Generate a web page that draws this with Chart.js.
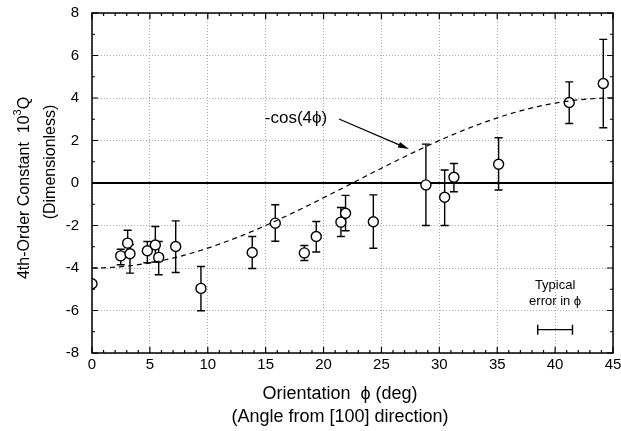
<!DOCTYPE html>
<html>
<head>
<meta charset="utf-8">
<script src="https://cdn.jsdelivr.net/npm/chart.js@4"></script>
<style>
  html, body { margin: 0; padding: 0; background: #fff; }
  canvas { display: block; }
</style>
</head>
<body>
<canvas id="qChart" width="621" height="431"></canvas>
<script>
// ===== 4th-order constant vs orientation =====

// measured points (orientation in deg, Q in units of 1e-3)
const phi   = [0, 2.48, 3.08, 3.28, 4.78, 5.47, 5.76, 7.23, 9.41, 13.84, 15.83, 18.34, 19.37, 21.5, 21.9, 24.3, 28.84, 30.46, 31.26, 35.12, 41.22, 44.16];
const q     = [-4.74, -3.43, -2.83, -3.33, -3.19, -2.92, -3.5, -2.99, -4.96, -3.27, -1.89, -3.29, -2.52, -1.84, -1.42, -1.82, -0.09, -0.67, 0.27, 0.88, 3.79, 4.68];
const qHigh = [null, -3.12, -2.22, -2.9, -2.75, -2.05, -2.75, -1.78, -3.93, -2.52, -1.02, -2.94, -1.81, -1.15, -0.58, -0.56, 1.83, 0.61, 0.92, 2.13, 4.76, 6.76];
const qLow  = [null, -3.85, -3.35, -4.24, -3.75, -3.72, -4.32, -4.21, -6.01, -4.02, -2.74, -3.65, -3.25, -2.52, -2.25, -3.07, -2.0, -2.0, -0.41, -0.33, 2.8, 2.6];

// model curve: -cos(4 phi), scaled
const curveAmp = 4;
const curve = [];
for (let d = 0; d <= 45; d += 0.5) {
  curve.push({ x: d, y: -curveAmp * Math.cos(4 * d * Math.PI / 180) });
}

// typical error in phi
const typErrCenter = 40;
const typErrHalf = 1.5;
const typErrQ = -6.9;

const xTicks = [0, 5, 10, 15, 20, 25, 30, 35, 40, 45];
const yTicks = [-8, -6, -4, -2, 0, 2, 4, 6, 8];

const FONT = "'Liberation Sans', Arial, sans-serif";

const paperPlugin = {
  id: 'paper',
  beforeDraw(chart) {
    const ctx = chart.ctx;
    ctx.save();
    ctx.fillStyle = '#fff';
    ctx.fillRect(0, 0, chart.width, chart.height);
    ctx.restore();
  },
  beforeDatasetsDraw(chart) {
    const { ctx, chartArea: a, scales: { x, y } } = chart;
    ctx.save();
    // zero line
    const y0 = y.getPixelForValue(0);
    ctx.strokeStyle = '#000';
    ctx.lineWidth = 2;
    ctx.beginPath();
    ctx.moveTo(a.left, y0);
    ctx.lineTo(a.right, y0);
    ctx.stroke();
    // error bars
    ctx.lineWidth = 1.4;
    phi.forEach((p, i) => {
      if (qLow[i] == null) return;
      const px = x.getPixelForValue(p);
      const y1 = y.getPixelForValue(qLow[i]);
      const y2 = y.getPixelForValue(qHigh[i]);
      ctx.beginPath();
      ctx.moveTo(px, y1); ctx.lineTo(px, y2);
      ctx.moveTo(px - 4, y1); ctx.lineTo(px + 4, y1);
      ctx.moveTo(px - 4, y2); ctx.lineTo(px + 4, y2);
      ctx.stroke();
    });
    ctx.restore();
  },
  afterDraw(chart) {
    const { ctx, chartArea: a, scales: { x, y } } = chart;
    ctx.save();
    ctx.strokeStyle = '#000';

    // frame
    ctx.lineWidth = 1.5;
    ctx.strokeRect(a.left, a.top, a.right - a.left, a.bottom - a.top);

    // inward ticks, all four sides
    ctx.lineWidth = 1.2;
    ctx.beginPath();
    for (let v = 0; v <= 45; v++) {
      const px = x.getPixelForValue(v);
      const len = v % 5 === 0 ? 6 : 3;
      ctx.moveTo(px, a.bottom); ctx.lineTo(px, a.bottom - len);
      ctx.moveTo(px, a.top); ctx.lineTo(px, a.top + len);
    }
    for (let v = -8; v <= 8; v++) {
      const py = y.getPixelForValue(v);
      const len = v % 2 === 0 ? 6 : 3;
      ctx.moveTo(a.left, py); ctx.lineTo(a.left + len, py);
      ctx.moveTo(a.right, py); ctx.lineTo(a.right - len, py);
    }
    ctx.stroke();

    // typical error in phi
    const ex1 = x.getPixelForValue(typErrCenter - typErrHalf);
    const ex2 = x.getPixelForValue(typErrCenter + typErrHalf);
    const ey = y.getPixelForValue(typErrQ);
    ctx.lineWidth = 1.4;
    ctx.beginPath();
    ctx.moveTo(ex1, ey); ctx.lineTo(ex2, ey);
    ctx.moveTo(ex1, ey - 5); ctx.lineTo(ex1, ey + 5);
    ctx.moveTo(ex2, ey - 5); ctx.lineTo(ex2, ey + 5);
    ctx.stroke();

    ctx.fillStyle = '#000';
    ctx.textAlign = 'center';
    ctx.textBaseline = 'middle';
    const ecx = x.getPixelForValue(typErrCenter);
    ctx.font = '13px ' + FONT;
    ctx.fillText('Typical', ecx, ey - 44);
    ctx.fillText('error in \u03d5', ecx, ey - 28);

    // curve label with arrow
    ctx.font = '17px ' + FONT;
    ctx.fillText('-cos(4\u03d5)', 296, 118);
    const ax1 = 339, ay1 = 119, ax2 = 409, ay2 = 149;
    ctx.lineWidth = 1.2;
    ctx.beginPath();
    ctx.moveTo(ax1, ay1); ctx.lineTo(ax2 - 8, ay2 - 3.4);
    ctx.stroke();
    const ang = Math.atan2(ay2 - ay1, ax2 - ax1);
    ctx.beginPath();
    ctx.moveTo(ax2, ay2);
    ctx.lineTo(ax2 - 11 * Math.cos(ang) + 3 * Math.sin(ang), ay2 - 11 * Math.sin(ang) - 3 * Math.cos(ang));
    ctx.lineTo(ax2 - 11 * Math.cos(ang) - 3 * Math.sin(ang), ay2 - 11 * Math.sin(ang) + 3 * Math.cos(ang));
    ctx.closePath();
    ctx.fill();

    // x axis title
    ctx.font = '18px ' + FONT;
    ctx.fillText('Orientation  \u03d5 (deg)', 340, 394);
    ctx.fillText('(Angle from [100] direction)', 340, 417);

    // y axis title
    ctx.save();
    ctx.translate(25, 188);
    ctx.rotate(-Math.PI / 2);
    const main = '4th-Order Constant  10';
    ctx.font = '16px ' + FONT;
    const w1 = ctx.measureText(main).width;
    ctx.font = '11px ' + FONT;
    const w2 = ctx.measureText('3').width;
    ctx.font = '16px ' + FONT;
    const w3 = ctx.measureText('Q').width;
    const sx = -(w1 + w2 + w3) / 2;
    ctx.textAlign = 'left';
    ctx.fillText(main, sx, 0);
    ctx.font = '11px ' + FONT;
    ctx.fillText('3', sx + w1, -7);
    ctx.font = '16px ' + FONT;
    ctx.fillText('Q', sx + w1 + w2, 0);
    ctx.restore();

    ctx.save();
    ctx.translate(51, 162);
    ctx.rotate(-Math.PI / 2);
    ctx.font = '16px ' + FONT;
    ctx.fillText('(Dimensionless)', 0, 0);
    ctx.restore();

    ctx.restore();
  }
};

new Chart(document.getElementById('qChart'), {
  type: 'scatter',
  data: {
    datasets: [
      {
        type: 'line',
        label: '-cos(4phi)',
        data: curve,
        borderColor: '#000',
        borderWidth: 1.2,
        borderDash: [5, 4],
        pointRadius: 0,
        fill: false,
        tension: 0
      },
      {
        label: 'Q',
        data: phi.map((p, i) => ({ x: p, y: q[i] })),
        pointRadius: 5,
        pointBackgroundColor: '#fff',
        pointBorderColor: '#000',
        pointBorderWidth: 1.4,
        clip: 0
      }
    ]
  },
  options: {
    responsive: false,
    animation: false,
    devicePixelRatio: 1,
    layout: { padding: { top: 13, right: 8, left: 0, bottom: 0 } },
    plugins: {
      legend: { display: false },
      tooltip: { enabled: false }
    },
    scales: {
      x: {
        type: 'linear',
        min: 0, max: 45,
        afterFit: s => { s.height = 78; s.paddingLeft = 0; s.paddingRight = 0; },
        afterBuildTicks: s => { s.ticks = xTicks.map(v => ({ value: v })); },
        ticks: { color: '#000', font: { size: 15, family: FONT }, padding: 3, maxRotation: 0 },
        grid: { color: '#a8a8a8', lineWidth: 1, drawTicks: false },
        border: { display: false, dash: [1, 2] }
      },
      y: {
        min: -8, max: 8,
        afterFit: s => { s.width = 92; s.paddingTop = 0; s.paddingBottom = 0; },
        afterBuildTicks: s => { s.ticks = yTicks.map(v => ({ value: v })); },
        ticks: { color: '#000', font: { size: 15, family: FONT }, padding: 13 },
        grid: { color: '#a8a8a8', lineWidth: 1, drawTicks: false },
        border: { display: false, dash: [1, 2] }
      }
    }
  },
  plugins: [paperPlugin]
});
</script>
</body>
</html>
